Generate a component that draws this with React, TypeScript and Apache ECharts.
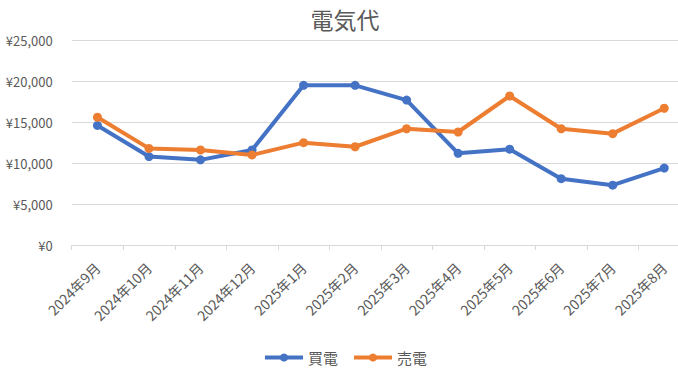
import React, { useEffect, useRef } from "react";
import * as echarts from "echarts";

const categories = [
  "2024年9月", "2024年10月", "2024年11月", "2024年12月",
  "2025年1月", "2025年2月", "2025年3月", "2025年4月",
  "2025年5月", "2025年6月", "2025年7月", "2025年8月",
];
const buyValues = [14600, 10800, 10400, 11600, 19500, 19500, 17700, 11200, 11700, 8100, 7300, 9400];
const sellValues = [15600, 11800, 11600, 11000, 12500, 12000, 14200, 13800, 18200, 14200, 13600, 16700];
const seriesNames = ["買電", "売電"];
const yTicks = { min: 0, max: 25000, interval: 5000 };

const FONT = "'Noto Sans CJK JP', 'Noto Sans', sans-serif";
const TEXT = "#595959";

export default function App() {
  const ref = useRef<HTMLDivElement>(null);
  useEffect(() => {
    if (!ref.current) return;
    const chart = echarts.init(ref.current, undefined, { renderer: "svg" });
    chart.setOption({
      animation: false,
      backgroundColor: "#ffffff",
      textStyle: { fontFamily: FONT },
      title: {
        text: "電気代",
        left: "center",
        top: 2,
        textStyle: { fontFamily: FONT, fontSize: 23, fontWeight: "normal", color: TEXT },
      },
      legend: {
        data: seriesNames,
        left: "center",
        top: 345,
        itemWidth: 38,
        itemHeight: 10,
        itemGap: 14,
        lineStyle: { width: 4 },
        textStyle: { fontFamily: FONT, fontSize: 15, color: TEXT },
      },
      grid: { left: 71.7, right: 0, top: 40.3, bottom: 133, containLabel: false },
      xAxis: {
        type: "category",
        data: categories,
        boundaryGap: true,
        axisLine: { show: true, lineStyle: { color: "#D9D9D9", width: 1 } },
        axisTick: { show: true, length: 5, lineStyle: { color: "#D9D9D9" } },
        axisLabel: {
          rotate: 45,
          interval: 0,
          margin: 20,
          fontFamily: FONT,
          fontSize: 14,
          color: TEXT,
        },
      },
      yAxis: {
        type: "value",
        min: yTicks.min,
        max: yTicks.max,
        interval: yTicks.interval,
        axisLine: { show: false },
        axisTick: { show: false },
        splitLine: { lineStyle: { color: "#D9D9D9", width: 1 } },
        axisLabel: {
          margin: 19,
          fontFamily: FONT,
          fontSize: 13,
          color: TEXT,
          formatter: (v: number) => "¥" + v.toLocaleString("en-US"),
        },
      },
      series: [
        {
          name: seriesNames[0],
          type: "line",
          data: buyValues,
          symbol: "circle",
          symbolSize: 9,
          color: "#4472C4",
          lineStyle: { width: 4, color: "#4472C4" },
          itemStyle: { color: "#4472C4" },
        },
        {
          name: seriesNames[1],
          type: "line",
          data: sellValues,
          symbol: "circle",
          symbolSize: 9,
          color: "#ED7D31",
          lineStyle: { width: 4, color: "#ED7D31" },
          itemStyle: { color: "#ED7D31" },
        },
      ],
    });
    return () => chart.dispose();
  }, []);
  return (
    <div style={{ position: "fixed", left: 0, top: 0, width: 678, height: 378, overflow: "hidden" }}>
      <div ref={ref} style={{ width: 690, height: 378 }} />
    </div>
  );
}
